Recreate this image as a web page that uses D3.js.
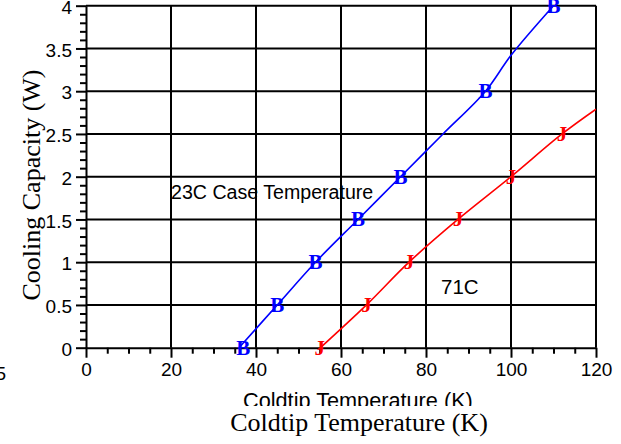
<!DOCTYPE html>
<html><head><meta charset="utf-8">
<script src="https://cdn.jsdelivr.net/npm/d3@7"></script>
<style>
html,body{margin:0;padding:0;background:#fff;}
svg{display:block;}
text{fill:#000;}
</style></head>
<body>
<svg id="c" width="621" height="444"></svg>
<script>
// ---- data ----
const blueX = [37, 45, 54, 64, 74, 94, 110];
const blueY = [0, 0.5, 1.0, 1.5, 2.0, 3.0, 4.0];
const redX = [55, 66, 76, 87.5, 100, 112];
const redY = [0, 0.5, 1.0, 1.5, 2.0, 2.5];
// fitted-curve points
const blueFitX = [36, 45, 54, 64, 74, 84, 94, 100, 110];
const blueFitY = [0, 0.5, 1.0, 1.5, 2.0, 2.5, 3.0, 3.42, 4.0];
const redFitX = [54.5, 66, 76, 87.5, 100, 112, 120];
const redFitY = [-0.03, 0.5, 1.0, 1.5, 2.0, 2.5, 2.79];
const xTicks = [0, 20, 40, 60, 80, 100, 120];
const yTicks = [0, 0.5, 1, 1.5, 2, 2.5, 3, 3.5, 4];
const yTickLabels = ["0", "0.5", "1", "1.5", "2", "2.5", "3", "3.5", "4"];
const labelBlue = "23C Case Temperature";
const labelRed = "71C";
const xTitle = "Coldtip Temperature (K)";
const yTitle = "Cooling Capacity (W)";

const svg = d3.select("#c");
const L = 86, R = 596, T = 5.7, B = 347.7;
const x = d3.scaleLinear().domain([0, 120]).range([L, R]);
const y = d3.scaleLinear().domain([0, 4]).range([B, T]);
const sans = "'Liberation Sans', Arial, sans-serif";
const serif = "'Liberation Serif', 'Times New Roman', serif";

// grid
const g = svg.append("g");
g.selectAll(".gx").data(xTicks.slice(1)).enter().append("line")
  .attr("x1", d => x(d)).attr("x2", d => x(d)).attr("y1", y(0)).attr("y2", y(4))
  .attr("stroke", "#000").attr("stroke-width", 2);
g.selectAll(".gy").data(yTicks.slice(1)).enter().append("line")
  .attr("x1", x(0)).attr("x2", x(120)).attr("y1", d => y(d)).attr("y2", d => y(d))
  .attr("stroke", "#000").attr("stroke-width", 2);

// minor ticks
const xMinor = d3.range(0, 121, 5).filter(v => v % 20 !== 0);
const yMinor = d3.range(0, 41, 1).map(v => v / 10).filter(v => Math.round(v * 10) % 5 !== 0);
const axX = svg.append("g").attr("transform", `translate(0,${B})`)
  .call(d3.axisBottom(x).tickValues(xMinor).tickSize(6).tickFormat(""));
const axY = svg.append("g").attr("transform", `translate(${L},0)`)
  .call(d3.axisLeft(y).tickValues(yMinor).tickSize(6).tickFormat(""));
// major ticks
const axX2 = svg.append("g").attr("transform", `translate(0,${B})`)
  .call(d3.axisBottom(x).tickValues(xTicks).tickSize(10).tickSizeOuter(0).tickPadding(5).tickFormat(d3.format("d")));
const axY2 = svg.append("g").attr("transform", `translate(${L},0)`)
  .call(d3.axisLeft(y).tickValues(yTicks).tickSize(10).tickSizeOuter(0).tickPadding(4)
    .tickFormat((d, i) => yTickLabels[i]));
[axX, axY, axX2, axY2].forEach(a => {
  a.selectAll("path").attr("stroke", "#000").attr("stroke-width", 2);
  a.selectAll("line").attr("stroke", "#000").attr("stroke-width", 2);
  a.selectAll("text").attr("font-family", sans).attr("font-size", 19).attr("fill", "#000");
});
axX.select("path").remove();
axY.select("path").remove();
axY2.selectAll("text").attr("dy", "0.4em");

// stray label at left edge
svg.append("text").attr("x", 6).attr("y", 380).attr("text-anchor", "end")
  .attr("font-family", sans).attr("font-size", 19).text("5");

// clip
svg.append("clipPath").attr("id", "clip").append("rect")
  .attr("x", L).attr("y", T - 2).attr("width", R - L).attr("height", B - T + 4);

const line = d3.line().x(d => x(d[0])).y(d => y(d[1])).curve(d3.curveCatmullRom);
svg.append("path").datum(blueFitX.map((v, i) => [v, blueFitY[i]]))
  .attr("d", line).attr("fill", "none").attr("stroke", "#0000ff").attr("stroke-width", 1.6)
  .attr("clip-path", "url(#clip)");
svg.append("path").datum(redFitX.map((v, i) => [v, redFitY[i]]))
  .attr("d", line).attr("fill", "none").attr("stroke", "#ff0000").attr("stroke-width", 1.6)
  .attr("clip-path", "url(#clip)");

svg.selectAll(".mb").data(blueX.map((v, i) => [v, blueY[i]])).enter().append("text")
  .attr("x", d => x(d[0])).attr("y", d => y(d[1])).attr("dy", "0.33em")
  .attr("text-anchor", "middle").attr("font-family", serif).attr("font-weight", "bold")
  .attr("font-size", 21).style("fill", "#0000ff").text("B");
svg.selectAll(".mr").data(redX.map((v, i) => [v, redY[i]])).enter().append("text")
  .attr("x", d => x(d[0])).attr("y", d => y(d[1])).attr("dy", "0.33em")
  .attr("text-anchor", "middle").attr("font-family", serif).attr("font-weight", "bold")
  .attr("font-size", 21).style("fill", "#ff0000").text("J");

// annotations
svg.append("text").attr("x", 171).attr("y", 199).attr("font-family", sans).attr("font-size", 19.6).text(labelBlue);
svg.append("text").attr("x", 441).attr("y", 294).attr("font-family", sans).attr("font-size", 20.5).text(labelRed);

// axis titles
svg.append("text").attr("x", 243).attr("y", 408).attr("font-family", sans).attr("font-size", 21.7).text(xTitle);
svg.append("rect").attr("x", 0).attr("y", 406).attr("width", 621).attr("height", 38).attr("fill", "#fff");
svg.append("text").attr("x", 359).attr("y", 431).attr("text-anchor", "middle")
  .attr("font-family", serif).attr("font-size", 26).text(xTitle);
svg.append("text").attr("transform", "translate(40,185) rotate(-90)").attr("text-anchor", "middle")
  .attr("font-family", serif).attr("font-size", 26).text(yTitle);
</script>
</body></html>
